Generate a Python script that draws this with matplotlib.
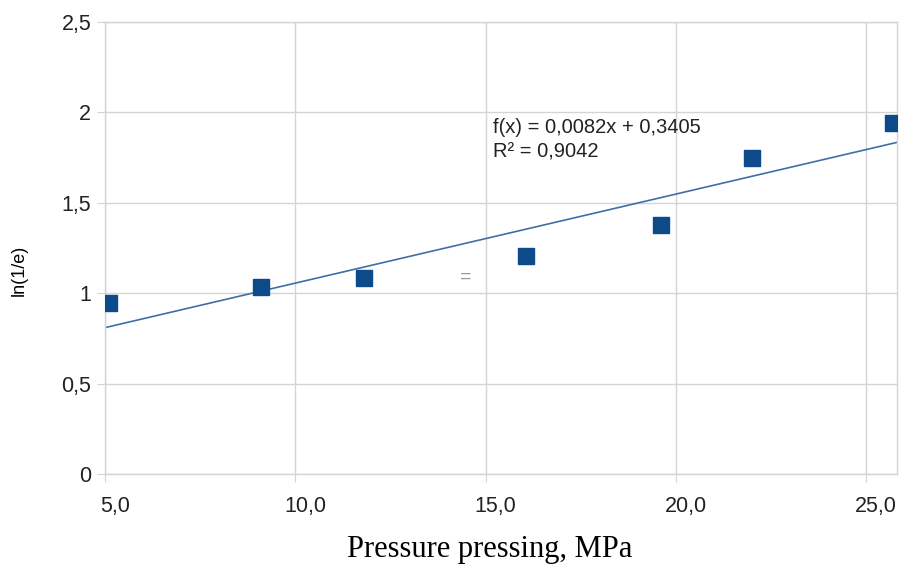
import matplotlib.pyplot as plt
import matplotlib.transforms as mtransforms
import numpy as np

# measured points
pressure = [5.1, 9.1, 11.8, 16.05, 19.6, 22.0, 25.7]
ln_inv_e = [0.945, 1.035, 1.083, 1.204, 1.376, 1.75, 1.94]

# trend line as drawn on the chart
trend_x = [5.0, 25.8]
trend_y = [0.81, 1.834]

x_ticks = [5, 10, 15, 20, 25]
x_tick_labels = ["5,0", "10,0", "15,0", "20,0", "25,0"]
y_ticks = [0, 0.5, 1, 1.5, 2, 2.5]
y_tick_labels = ["0", "0,5", "1", "1,5", "2", "2,5"]

plt.rcParams['font.family'] = ['Liberation Sans', 'DejaVu Sans']

fig = plt.figure(figsize=(8.99, 5.67), dpi=100)
ax = fig.add_axes([0.117, 0.164, 0.881, 0.797])

grid_col = '#d4d4d4'
ax.grid(True, color=grid_col, linewidth=1)
ax.set_axisbelow(True)
for s in ax.spines.values():
    s.set_color(grid_col)
    s.set_linewidth(1)

ax.plot(trend_x, trend_y, color='#3f6fa6', linewidth=1.2, zorder=2)
ax.plot(pressure, ln_inv_e, linestyle='none', marker='s', markersize=12,
        color='#0d4a8a', zorder=3)

ax.set_xlim(5, 25.82)
ax.set_ylim(0, 2.5)
ax.set_xticks(x_ticks)
ax.set_xticklabels(x_tick_labels, fontsize=15.5)
ax.set_yticks(y_ticks)
ax.set_yticklabels(y_tick_labels, fontsize=15.5)
ax.tick_params(axis='both', length=6, color=grid_col, colors='#222222')
ax.tick_params(axis='x', pad=10)
ax.tick_params(axis='y', pad=4)

# x labels sit a bit to the right of their gridlines
offset = mtransforms.ScaledTranslation(10 / 100, 0, fig.dpi_scale_trans)
for lbl in ax.get_xticklabels():
    lbl.set_transform(lbl.get_transform() + offset)

ax.set_xlabel("Pressure pressing, MPa", fontsize=22, family='Liberation Serif',
              labelpad=14)
ax.xaxis.set_label_coords(0.486, -0.135)
ax.set_ylabel("ln(1/e)", fontsize=13)
ax.yaxis.set_label_coords(-0.098, 0.45)

ax.text(15.2, 1.85, "f(x) = 0,0082x + 0,3405\nR² = 0,9042",
        fontsize=14.5, color='#222222', va='center', ha='left', linespacing=1.35)
ax.text(0.455, 0.436, "=", transform=ax.transAxes, fontsize=14, color='#999999',
        ha='center', va='center')

fig.savefig("out.png", dpi=100)
